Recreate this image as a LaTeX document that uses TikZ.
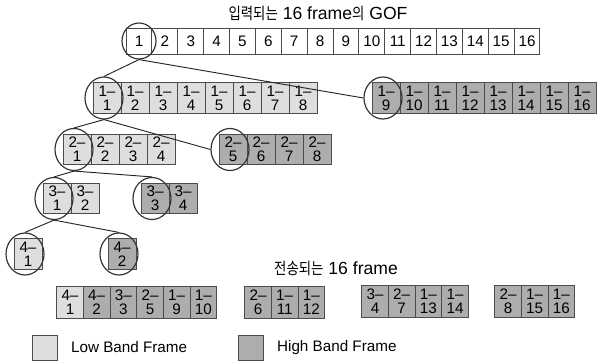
\documentclass[tikz,border=0pt]{standalone}
\usepackage{fontspec}
\setmainfont{Liberation Sans}
\newfontfamily\krfont[Scale=0.92, FakeStretch=0.83]{Noto Sans CJK KR}
\usepackage{tikz}
\usetikzlibrary{positioning, shapes.geometric}
\definecolor{lowgray}{gray}{0.87}
\definecolor{highgray}{gray}{0.68}

\begin{document}
\begin{tikzpicture}[x=0.3mm, y=-0.3mm,
      font=\fontsize{13}{12}\selectfont,
      titlenode/.style={font=\fontsize{15}{18}\selectfont},
      framenode/.style={rectangle, draw=black!70, fill=white, line width=0.8pt, minimum width=7.76mm, minimum height=7.8mm, inner sep=0pt, outer sep=0pt},
      lownode/.style={rectangle, draw=black!70, fill=lowgray, line width=0.8pt, minimum width=8.4mm, minimum height=9.2mm, inner sep=0pt, outer sep=0pt, align=center},
      highnode/.style={lownode, fill=highgray},
      sentnode/.style={minimum width=8mm, minimum height=9.6mm},
      keynode/.style={minimum width=7.5mm, minimum height=7.5mm},
      ringnode/.style={ellipse, draw=black!80, line width=1pt, minimum width=11.4mm, minimum height=12.6mm, inner sep=0pt, xshift=-0.9mm},
      topringnode/.style={ellipse, draw=black!80, line width=1pt, minimum width=10.2mm, minimum height=10.8mm, inner sep=0pt},
      ]
      \useasboundingbox (0,0) rectangle (598,362);

      %Nodes
      \node[titlenode] (intitle) at (318,13) {{\krfont 입력되는} 16 frame{\krfont 의} GOF};
      \node[framenode] (f1) at (139,41) {1};
      \foreach \i [remember=\i as \last (initially 1)] in {2,...,16}
        \node[framenode, right=0pt of f\last] (f\i) {\i};

      \node[lownode] (a1) at (107,98) {1--\\1};
      \foreach \i [remember=\i as \last (initially 1)] in {2,...,8}
        \node[lownode, right=0pt of a\last] (a\i) {1--\\\i};
      \node[highnode] (a9) at (386,98) {1--\\9};
      \foreach \i [remember=\i as \last (initially 9)] in {10,...,16}
        \node[highnode, right=0pt of a\last] (a\i) {1--\\\i};

      \node[lownode] (b1) at (77,149.5) {2--\\1};
      \foreach \i [remember=\i as \last (initially 1)] in {2,3,4}
        \node[lownode, right=0pt of b\last] (b\i) {2--\\\i};
      \node[highnode] (b5) at (233,149.5) {2--\\5};
      \foreach \i [remember=\i as \last (initially 5)] in {6,7,8}
        \node[highnode, right=0pt of b\last] (b\i) {2--\\\i};

      \node[lownode] (c1) at (57,198.5) {3--\\1};
      \node[lownode, right=0pt of c1] (c2) {3--\\2};
      \node[highnode] (c3) at (155,198.5) {3--\\3};
      \node[highnode, right=0pt of c3] (c4) {3--\\4};

      \node[lownode] (d1) at (28,254) {4--\\1};
      \node[highnode] (d2) at (122,254) {4--\\2};

      \node[topringnode] (ring1) at (f1) {};
      \node[ringnode] (ringa1) at (a1) {};
      \node[ringnode] (ringa9) at (a9) {};
      \node[ringnode] (ringb1) at (b1) {};
      \node[ringnode] (ringb5) at (b5) {};
      \node[ringnode] (ringc1) at (c1) {};
      \node[ringnode] (ringc3) at (c3) {};
      \node[ringnode] (ringd1) at (d1) {};
      \node[ringnode] (ringd2) at (d2) {};

      \node[titlenode] (outtitle) at (336,268) {{\krfont 전송되는} 16 frame};
      \node[lownode, sentnode] (s1) at (70,302) {4--\\1};
      \foreach \lev/\num [count=\k from 2, evaluate=\k as \last using int(\k-1)] in {4/2,3/3,2/5,1/9,1/10}
        \node[highnode, sentnode, right=0pt of s\last] (s\k) {\lev--\\\num};
      \node[highnode, sentnode] (s7) at (258,302) {2--\\6};
      \foreach \lev/\num [count=\k from 8, evaluate=\k as \last using int(\k-1)] in {1/11,1/12}
        \node[highnode, sentnode, right=0pt of s\last] (s\k) {\lev--\\\num};
      \node[highnode, sentnode] (s10) at (375,301) {3--\\4};
      \foreach \lev/\num [count=\k from 11, evaluate=\k as \last using int(\k-1)] in {2/7,1/13,1/14}
        \node[highnode, sentnode, right=0pt of s\last] (s\k) {\lev--\\\num};
      \node[highnode, sentnode] (s14) at (508,301) {2--\\8};
      \foreach \lev/\num [count=\k from 15, evaluate=\k as \last using int(\k-1)] in {1/15,1/16}
        \node[highnode, sentnode, right=0pt of s\last] (s\k) {\lev--\\\num};

      \node[lownode, keynode] (lowkey) at (44.5,347.5) {};
      \node[right=3mm of lowkey] (lowtext) {Low Band Frame};
      \node[highnode, keynode] (highkey) at (250.5,347.5) {};
      \node[right=3mm of highkey] (hightext) {High Band Frame};

      %Lines
      \draw[-, line width=0.8pt, black!85] (ring1.south) -- (ringa1.north);
      \draw[-, line width=0.8pt, black!85] (ring1.south) -- (ringa9.west);
      \draw[-, line width=0.8pt, black!85] (ringa1.south) -- (ringb1.north);
      \draw[-, line width=0.8pt, black!85] (ringa1.south) -- (ringb5.west);
      \draw[-, line width=0.8pt, black!85] (ringb1.south) -- (ringc1.north);
      \draw[-, line width=0.8pt, black!85] (ringb1.south) -- (ringc3.north);
      \draw[-, line width=0.8pt, black!85] (ringc1.south) -- (ringd1.north);
      \draw[-, line width=0.8pt, black!85] (ringc1.south) -- (ringd2.north);
\end{tikzpicture}
\end{document}
